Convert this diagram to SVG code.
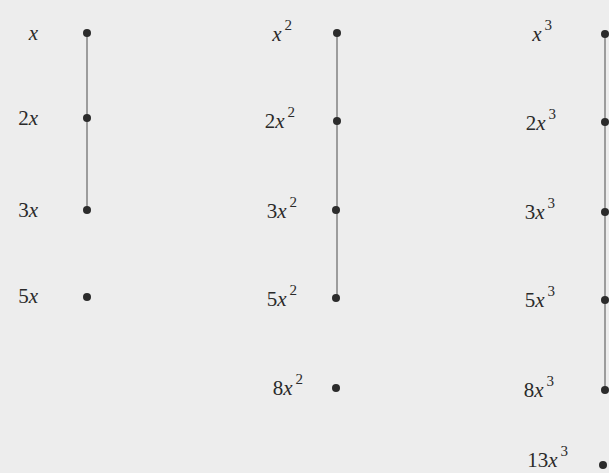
<svg xmlns="http://www.w3.org/2000/svg" width="609" height="473" viewBox="0 0 609 473">
<style>
.t{font-family:"Liberation Serif","DejaVu Serif",serif;font-size:21px;fill:#2a2a2a}
.v{font-style:italic}
.s{font-size:15px}
.d{fill:#2b2b2b}
.c{stroke:#666;stroke-width:1.2;fill:none}
</style>
<rect width="609" height="473" fill="#ededed"/>
<g id="connectors">
<path class="c" d="M87 33V118V210"/>
<path class="c" d="M337 33V121V210V298"/>
<path class="c" d="M605 34V122V212V300V390"/>
</g>
<g id="n1"><text class="t" x="38" y="40" text-anchor="end"><tspan class="v">x</tspan></text><circle class="d" cx="87" cy="33" r="4"/></g>
<g id="n2"><text class="t" x="38" y="125" text-anchor="end">2<tspan class="v">x</tspan></text><circle class="d" cx="87" cy="118" r="4"/></g>
<g id="n3"><text class="t" x="38" y="217" text-anchor="end">3<tspan class="v">x</tspan></text><circle class="d" cx="87" cy="210" r="4"/></g>
<g id="n5"><text class="t" x="38" y="303" text-anchor="end">5<tspan class="v">x</tspan></text><circle class="d" cx="87" cy="297" r="4"/></g>

<g id="m1"><text class="t" x="292" y="41" text-anchor="end"><tspan class="v">x</tspan><tspan class="s" dx="3" dy="-11">2</tspan></text><circle class="d" cx="337" cy="33" r="4"/></g>
<g id="m2"><text class="t" x="295" y="128" text-anchor="end">2<tspan class="v">x</tspan><tspan class="s" dx="3" dy="-11">2</tspan></text><circle class="d" cx="337" cy="121" r="4"/></g>
<g id="m3"><text class="t" x="297" y="218" text-anchor="end">3<tspan class="v">x</tspan><tspan class="s" dx="3" dy="-11">2</tspan></text><circle class="d" cx="336" cy="210" r="4"/></g>
<g id="m5"><text class="t" x="297" y="306" text-anchor="end">5<tspan class="v">x</tspan><tspan class="s" dx="3" dy="-11">2</tspan></text><circle class="d" cx="336" cy="298" r="4"/></g>
<g id="m8"><text class="t" x="303" y="395" text-anchor="end">8<tspan class="v">x</tspan><tspan class="s" dx="3" dy="-11">2</tspan></text><circle class="d" cx="336" cy="388" r="4"/></g>

<g id="k1"><text class="t" x="552" y="41" text-anchor="end"><tspan class="v">x</tspan><tspan class="s" dx="3" dy="-11">3</tspan></text><circle class="d" cx="605" cy="34" r="4"/></g>
<g id="k2"><text class="t" x="556" y="130" text-anchor="end">2<tspan class="v">x</tspan><tspan class="s" dx="3" dy="-11">3</tspan></text><circle class="d" cx="605" cy="122" r="4"/></g>
<g id="k3"><text class="t" x="555" y="219" text-anchor="end">3<tspan class="v">x</tspan><tspan class="s" dx="3" dy="-11">3</tspan></text><circle class="d" cx="605" cy="212" r="4"/></g>
<g id="k5"><text class="t" x="555" y="307" text-anchor="end">5<tspan class="v">x</tspan><tspan class="s" dx="3" dy="-11">3</tspan></text><circle class="d" cx="605" cy="300" r="4"/></g>
<g id="k8"><text class="t" x="554" y="397" text-anchor="end">8<tspan class="v">x</tspan><tspan class="s" dx="3" dy="-11">3</tspan></text><circle class="d" cx="605" cy="390" r="4"/></g>
<g id="k13"><text class="t" x="568" y="467" text-anchor="end">13<tspan class="v">x</tspan><tspan class="s" dx="3" dy="-11">3</tspan></text><circle class="d" cx="603" cy="465" r="4"/></g>
</svg>
